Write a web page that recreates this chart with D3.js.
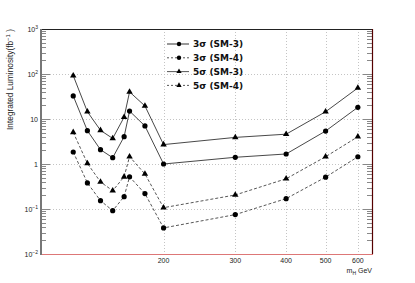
<!DOCTYPE html>
<html>
<head>
<meta charset="utf-8">
<script src="https://cdn.jsdelivr.net/npm/d3@7"></script>
<style>
  body { margin: 0; background: #fff; }
  svg { display: block; }
</style>
</head>
<body>
<svg id="chart"></svg>
<script>
// Higgs mass points (GeV)
const masses = [120, 130, 140, 150, 160, 165, 180, 200, 300, 400, 500, 600];

// integrated luminosity needed, fb^-1
const sig3sm3 = [32.5, 5.5, 2.08, 1.38, 4.05, 15, 7, 1.0, 1.41, 1.67, 5.4, 18.2];
const sig3sm4 = [1.85, 0.38, 0.153, 0.092, 0.188, 0.52, 0.22, 0.038, 0.075, 0.17, 0.51, 1.45];
const sig5sm3 = [92, 14.5, 5.6, 3.7, 11, 40, 19.5, 2.7, 3.9, 4.6, 14.5, 49];
const sig5sm4 = [5.06, 1.03, 0.4, 0.255, 0.52, 1.46, 0.6, 0.107, 0.205, 0.47, 1.45, 4.04];

const seriesNames = ["3σ (SM-3)", "3σ (SM-4)", "5σ (SM-3)", "5σ (SM-4)"];
const xTicks = [200, 300, 400, 500, 600];
const yMajor = [1e-2, 1e-1, 1, 10, 1e2, 1e3];

const series = [
  { name: seriesNames[0], values: sig3sm3, marker: "circle", dashed: false },
  { name: seriesNames[1], values: sig3sm4, marker: "circle", dashed: true },
  { name: seriesNames[2], values: sig5sm3, marker: "triangle", dashed: false },
  { name: seriesNames[3], values: sig5sm4, marker: "triangle", dashed: true }
];

const width = 415, height = 283;
const margin = { top: 29, right: 43, bottom: 29, left: 41 };

const svg = d3.select("#chart")
    .attr("width", width)
    .attr("height", height);

const x = d3.scaleLog()
    .domain([100, 650])
    .range([margin.left, width - margin.right]);

const y = d3.scaleLog()
    .domain([1e-2, 1e3])
    .range([height - margin.bottom, margin.top]);

const x0 = margin.left, x1 = width - margin.right;
const y0 = height - margin.bottom, y1 = margin.top;

// dotted grid
const grid = svg.append("g")
    .attr("stroke", "#c4c4c4")
    .attr("stroke-width", 1)
    .attr("stroke-dasharray", "1,2");

grid.selectAll("line.h")
    .data(yMajor.slice(1, -1))
    .join("line")
    .attr("class", "h")
    .attr("x1", x0).attr("x2", x1)
    .attr("y1", d => Math.round(y(d)) + 0.5).attr("y2", d => Math.round(y(d)) + 0.5);

grid.selectAll("line.v")
    .data(xTicks)
    .join("line")
    .attr("class", "v")
    .attr("x1", d => Math.round(x(d)) + 0.5).attr("x2", d => Math.round(x(d)) + 0.5)
    .attr("y1", y1).attr("y2", y0);

// minor + major ticks on both vertical axes
const minor = [];
yMajor.slice(0, -1).forEach(base => {
  for (let k = 2; k <= 9; k++) minor.push(base * k);
});

const ticks = svg.append("g").attr("stroke", "#888").attr("stroke-width", 1);
ticks.selectAll("line.lminor")
    .data(minor)
    .join("line")
    .attr("class", "lminor")
    .attr("x1", x0).attr("x2", x0 + 5)
    .attr("y1", d => Math.round(y(d)) + 0.5).attr("y2", d => Math.round(y(d)) + 0.5);
ticks.selectAll("line.lmajor")
    .data(yMajor)
    .join("line")
    .attr("class", "lmajor")
    .attr("x1", x0).attr("x2", x0 + 9)
    .attr("y1", d => Math.round(y(d)) + 0.5).attr("y2", d => Math.round(y(d)) + 0.5);
ticks.selectAll("line.rminor")
    .data(minor)
    .join("line")
    .attr("class", "rminor")
    .attr("x1", x1 - 5).attr("x2", x1)
    .attr("y1", d => Math.round(y(d)) + 0.5).attr("y2", d => Math.round(y(d)) + 0.5);
ticks.selectAll("line.rmajor")
    .data(yMajor)
    .join("line")
    .attr("class", "rmajor")
    .attr("x1", x1 - 9).attr("x2", x1)
    .attr("y1", d => Math.round(y(d)) + 0.5).attr("y2", d => Math.round(y(d)) + 0.5);

// frame
svg.append("line").attr("x1", x0).attr("x2", x1).attr("y1", y1 + 0.5).attr("y2", y1 + 0.5)
    .attr("stroke", "#222").attr("stroke-width", 1);
svg.append("line").attr("x1", x0).attr("x2", x1 + 1).attr("y1", y0 + 0.5).attr("y2", y0 + 0.5)
    .attr("stroke", "#d77").attr("stroke-width", 1);
svg.append("line").attr("x1", x1 + 0.5).attr("x2", x1 + 0.5).attr("y1", y1).attr("y2", y0)
    .attr("stroke", "#500").attr("stroke-width", 1.2);
svg.append("line").attr("x1", x0).attr("x2", x0).attr("y1", y1).attr("y2", y0 + 1)
    .attr("stroke", "#777").attr("stroke-width", 2);

// y tick labels
const fmtY = d => {
  const e = Math.round(Math.log10(d));
  if (e === 0) return [{ t: "1" }];
  if (e === 1) return [{ t: "10" }];
  return [{ t: "10" }, { t: String(e).replace("-", "−"), sup: true }];
};
const ylab = svg.append("g")
    .attr("font-family", "Liberation Sans, Arial, sans-serif")
    .attr("font-size", 7)
    .attr("fill", "#222");
yMajor.forEach(v => {
  const t = ylab.append("text")
      .attr("x", x0 - 3)
      .attr("y", y(v) + 2.5)
      .attr("text-anchor", "end");
  fmtY(v).forEach(p => {
    const s = t.append("tspan").text(p.t);
    if (p.sup) s.attr("font-size", 5).attr("dy", -3);
  });
});

// x tick labels
svg.append("g")
    .attr("font-family", "Liberation Sans, Arial, sans-serif")
    .attr("font-size", 7)
    .attr("fill", "#222")
    .selectAll("text")
    .data(xTicks)
    .join("text")
    .attr("x", d => x(d))
    .attr("y", y0 + 9)
    .attr("text-anchor", "middle")
    .text(d => d);

// axis titles
const xt = svg.append("text")
    .attr("x", x1)
    .attr("y", y0 + 19)
    .attr("text-anchor", "end")
    .attr("font-family", "Liberation Sans, Arial, sans-serif")
    .attr("font-size", 7)
    .attr("fill", "#222");
xt.append("tspan").text("m");
xt.append("tspan").text("H").attr("font-size", 5).attr("dy", 2);
xt.append("tspan").text(" GeV").attr("dy", -2);

const yt = svg.append("text")
    .attr("transform", `translate(13,${y1}) rotate(-90)`)
    .attr("text-anchor", "end")
    .attr("font-family", "Liberation Sans, Arial, sans-serif")
    .attr("font-size", 8.3)
    .attr("fill", "#222");
yt.append("tspan").text("Integrated Luminosity(fb");
yt.append("tspan").text("−1").attr("font-size", 6).attr("dy", -3);
yt.append("tspan").text(" )").attr("dy", 3);

// series
const line = d3.line()
    .x((d, i) => x(masses[i]))
    .y(d => y(d));

const tri = d3.symbol().type(d3.symbolTriangle).size(18);

const plot = svg.append("g");
series.forEach(s => {
  plot.append("path")
      .datum(s.values)
      .attr("d", line)
      .attr("fill", "none")
      .attr("stroke", s.dashed ? "#444" : "#333")
      .attr("stroke-width", 0.9)
      .attr("stroke-dasharray", s.dashed ? "3,2" : null);

  const pts = plot.append("g")
      .selectAll("g")
      .data(s.values)
      .join("g")
      .attr("transform", (d, i) => `translate(${x(masses[i])},${y(d)})`);
  if (s.marker === "circle") {
    pts.append("circle").attr("r", 2.6).attr("fill", "#000");
  } else {
    pts.append("path").attr("d", tri).attr("fill", "#000");
  }
});

// legend
const legend = svg.append("g").attr("transform", "translate(167,44)");
const rows = legend.selectAll("g")
    .data(series)
    .join("g")
    .attr("transform", (d, i) => `translate(0,${i * 13.8})`);
rows.append("line")
    .attr("x1", 0).attr("x2", 22)
    .attr("y1", 0).attr("y2", 0)
    .attr("stroke", (d, i) => i === 0 ? "#999" : "#444")
    .attr("stroke-width", (d, i) => i === 0 ? 2 : 0.9)
    .attr("stroke-dasharray", d => d.dashed ? "2,2" : null);
rows.each(function(d) {
  const g = d3.select(this);
  if (d.marker === "circle") {
    g.append("circle").attr("cx", 12).attr("r", 2.2).attr("fill", "#000");
  } else {
    g.append("path").attr("d", d3.symbol().type(d3.symbolTriangle).size(12))
        .attr("transform", "translate(12,0)").attr("fill", "#000");
  }
});
rows.append("text")
    .attr("x", 26)
    .attr("y", 3.2)
    .attr("font-family", "DejaVu Sans, sans-serif")
    .attr("font-weight", "bold")
    .attr("font-size", 9)
    .attr("fill", "#111")
    .text(d => d.name);
</script>
</body>
</html>
